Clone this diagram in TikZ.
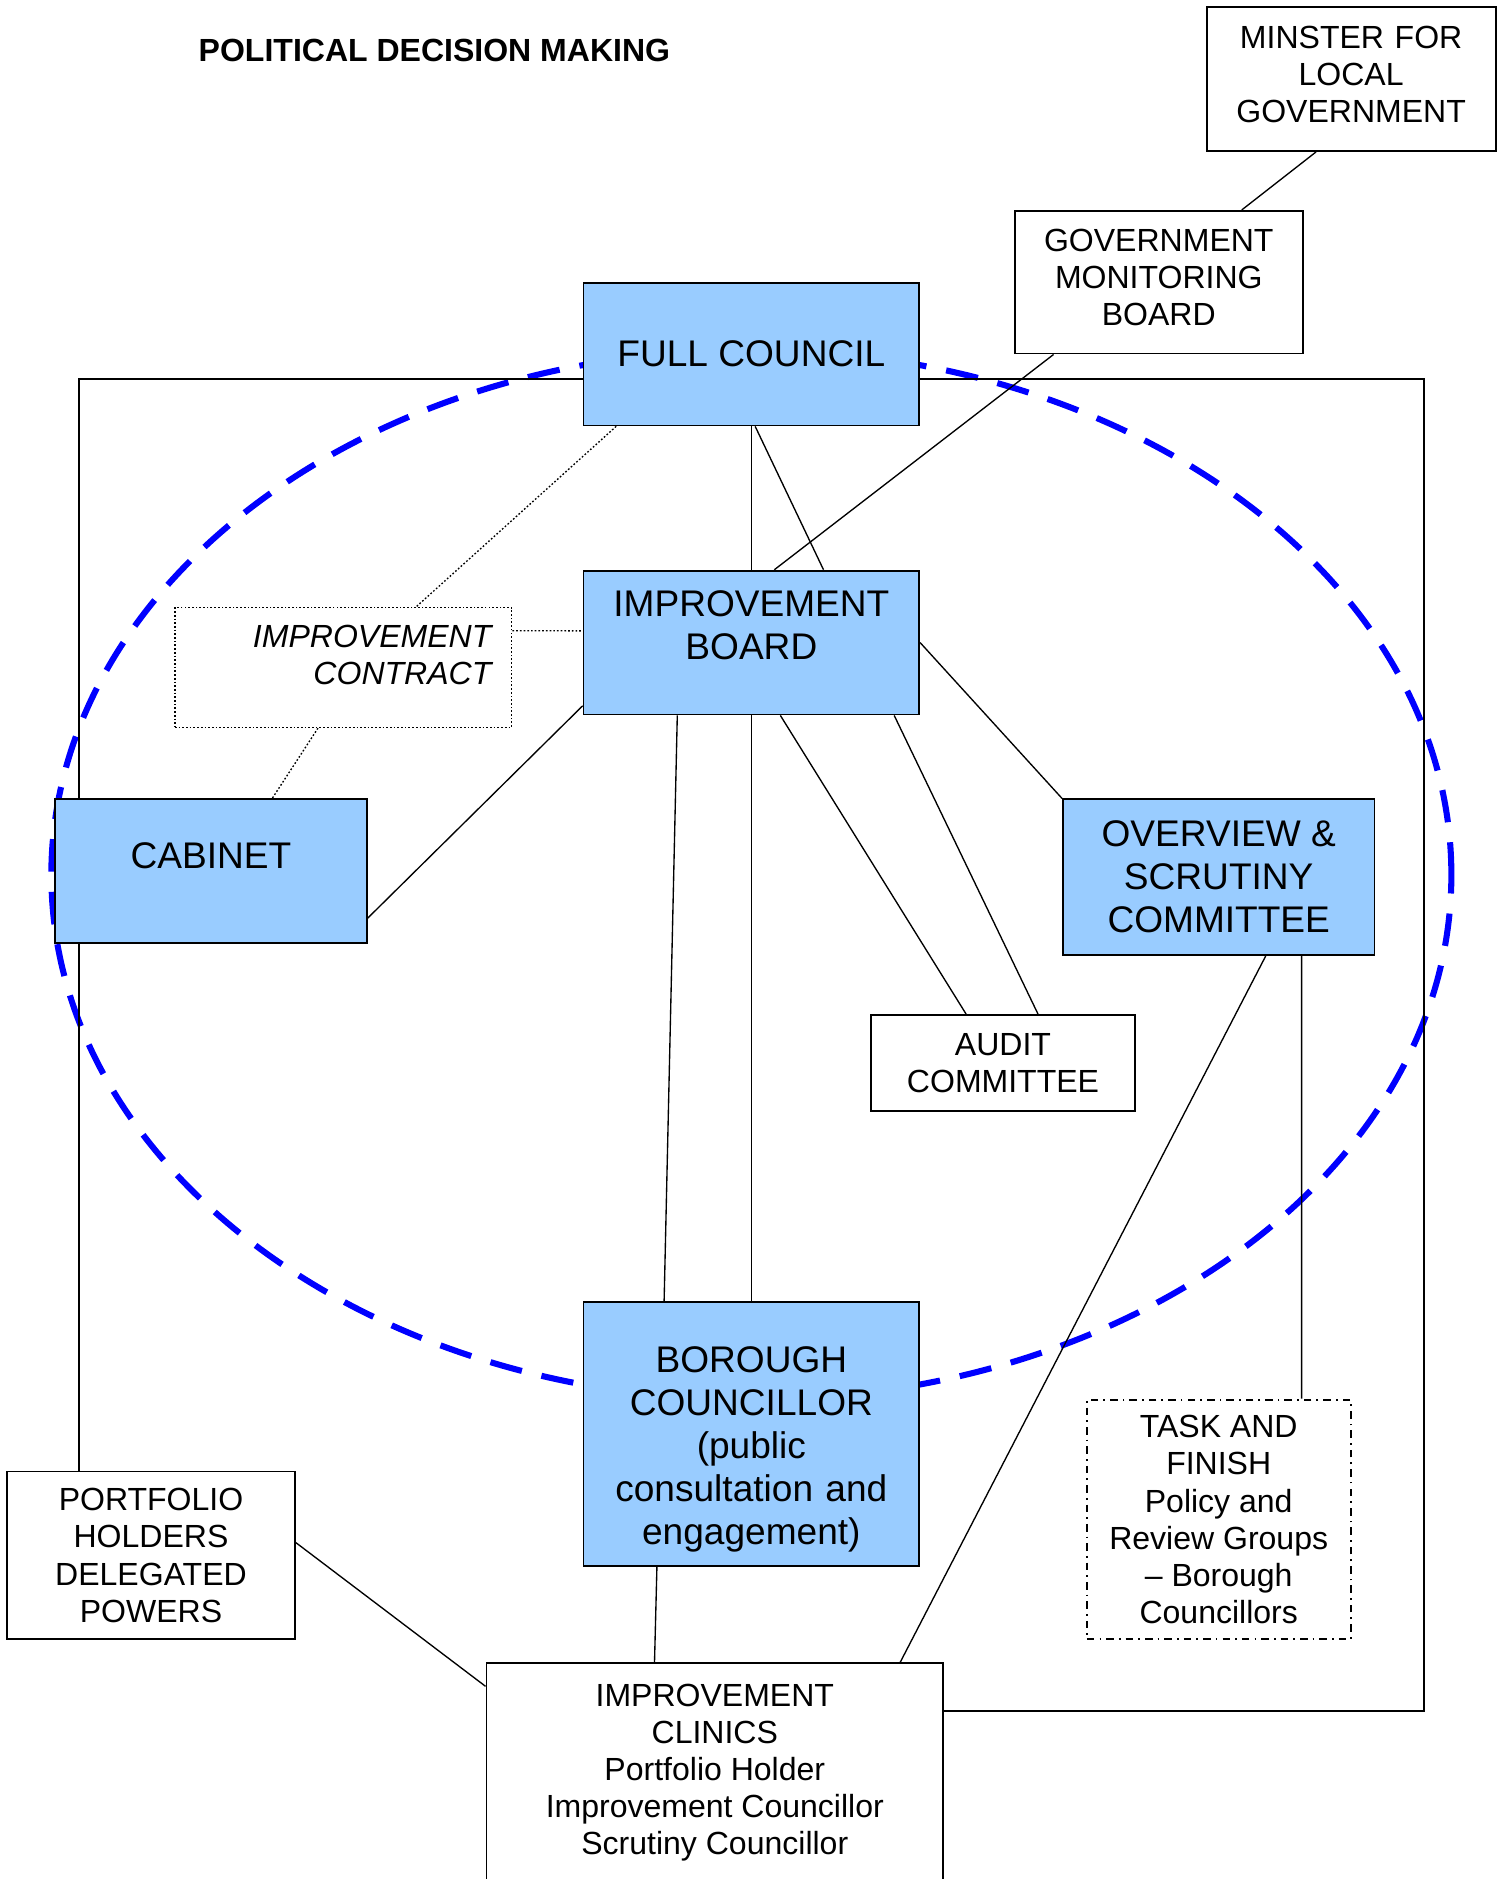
\documentclass[tikz,border=0pt]{standalone}
\usepackage{fontspec}
\setmainfont{Liberation Sans}
\usepackage{xcolor}
\definecolor{BoxBlue}{RGB}{153, 204, 255}
\definecolor{RingBlue}{RGB}{0, 0, 255}
\usepackage{tikz}
\usetikzlibrary{positioning, calc, backgrounds}
\newcommand{\boxfontbig}{\fontsize{22}{25.5}\selectfont}
\newcommand{\boxfontsmall}{\fontsize{19}{22}\selectfont}

\begin{document}
\begin{tikzpicture}[
        x=0.025cm, y=-0.025cm,
        bluebox/.style={rectangle, draw, line width=1.1pt, fill=BoxBlue, font=\boxfontbig, align=center, inner sep=0pt},
        plainbox/.style={rectangle, draw, line width=1.1pt, fill=white, font=\boxfontsmall, align=center, inner sep=0pt},
        taskbox/.style={plainbox, dash pattern=on 4.5pt off 3pt on 1pt off 3pt},
        notebox/.style={plainbox, line width=0.9pt, dash pattern=on 1pt off 1.2pt, font=\boxfontsmall\itshape, align=right},
        link/.style={line width=0.8pt},
        dotlink/.style={line width=0.8pt, dash pattern=on 1pt off 1.2pt},
        ring/.style={draw=RingBlue, line width=3.6pt, dash pattern=on 0.68cm off 0.42cm}
    ]
        \useasboundingbox (0,0) rectangle (1258,1568);

        \node[font=\boxfontsmall\bfseries] (title) at (362.5,42) {POLITICAL DECISION MAKING};

        % outside bodies
        \node[plainbox, minimum width=6.025cm, text width=6.025cm, text height=0.8625cm, text depth=2.1375cm] (minister) at (1127.5,66) {MINSTER FOR\\LOCAL\\GOVERNMENT};
        \node[plainbox, minimum width=6cm, text width=6cm, text height=0.8375cm, text depth=2.1375cm] (gmb) at (967,235.5) {GOVERNMENT\\MONITORING\\BOARD};

        % council bodies
        \node[bluebox, minimum width=7cm, minimum height=2.975cm] (fc) at (627,295.5) {FULL COUNCIL};
        \node[bluebox, minimum width=7cm, text width=7cm, text height=0.95cm, text depth=2.05cm, below=2.99cm of fc] (ib) {IMPROVEMENT\\BOARD};
        \node[bluebox, minimum width=7cm, text width=7cm, text height=1.475cm, text depth=4.025cm, below=12.22cm of ib] (bc) {BOROUGH\\COUNCILLOR\\(public\\consultation and\\engagement)};
        \node[bluebox, minimum width=6.5cm, text height=1.45cm, text depth=1.55cm] (cab) at (176,727) {CABINET};
        \node[bluebox, minimum width=6.5cm, minimum height=3.25cm] (os) at (1017,732) {OVERVIEW \&\\SCRUTINY\\COMMITTEE};
        \node[notebox, minimum width=7.025cm, text width=6.175cm, inner xsep=0.425cm, text height=0.84cm, text depth=1.66cm] (contract) at (286.5,557) {IMPROVEMENT\\CONTRACT};
        \node[plainbox, minimum width=5.5cm, minimum height=2cm] (audit) at (837,887) {AUDIT\\COMMITTEE};

        % lower groups
        \node[taskbox, minimum width=5.5cm, minimum height=5cm] (task) at (1017,1268) {TASK AND\\FINISH\\Policy and\\Review Groups\\-- Borough\\Councillors};
        \node[plainbox, minimum width=6cm, minimum height=3.5cm] (port) at (126,1298) {PORTFOLIO\\HOLDERS\\DELEGATED\\POWERS};
        \node[plainbox, minimum width=9.525cm, minimum height=4.575cm] (clinics) at (596.5,1479.5) {IMPROVEMENT\\CLINICS\\Portfolio Holder\\Improvement Councillor\\Scrutiny Councillor};

        \begin{scope}[on background layer]
            \draw[ring] (627,730) ellipse [x radius=14.6cm, y radius=10.95cm];

            \coordinate (framenw) at (66,316);
            \coordinate (framese) at (1188,1428);
            \draw[line width=1.1pt] (port.north -| framenw) -- (framenw) -- (framenw -| framese) -- (framese) -- (clinics.east |- framese);

            \draw[link] ($(minister.south west)+(92,0)$) -- ($(gmb.north west)+(190,0)$);
            \draw[link] ($(gmb.south west)+(33,0)$) -- ($(ib.north west)+(160,0)$);
            \draw[link] (fc.south) -- (ib.north);
            \draw[link] ($(fc.south west)+(144,0)$) -- ($(ib.north west)+(201,0)$);
            \draw[dotlink] ($(fc.south west)+(28,0)$) -- ($(contract.north west)+(202,0)$);
            \draw[dotlink] ($(contract.south west)+(120,0)$) -- ($(cab.north west)+(182,0)$);
            \draw[dotlink] ($(contract.north east)+(0,20)$) -- ($(ib.north west)+(0,51)$);
            \draw[link] ($(cab.north east)+(0,100)$) -- ($(ib.south west)+(0,-8)$);
            \draw[link] (ib.east) -- (os.north west);
            \draw[link] ($(ib.south west)+(165,0)$) -- ($(audit.north west)+(80,0)$);
            \draw[link] ($(ib.south west)+(260,0)$) -- ($(audit.north west)+(140,0)$);
            \draw[link] ($(ib.south west)+(79,0)$) -- ($(bc.north west)+(68,0)$);
            \draw[link] (ib.south) -- (bc.north);
            \draw[link] ($(os.south west)+(200,0)$) -- ($(task.north west)+(180,0)$);
            \draw[link] ($(os.south west)+(170,0)$) -- ($(clinics.north west)+(346,0)$);
            \draw[link] ($(port.north east)+(0,60)$) -- ($(clinics.north west)+(0,20)$);
            \draw[link] ($(bc.south west)+(62,0)$) -- ($(clinics.north west)+(141,0)$);
        \end{scope}
    \end{tikzpicture}
\end{document}
